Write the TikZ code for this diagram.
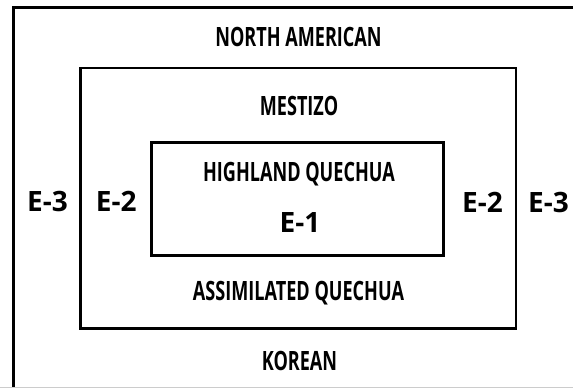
\documentclass[tikz,border=0pt]{standalone}
\usepackage{fontspec}
\setmainfont{Open Sans}
\newfontfamily\narrowfont{Open Sans}[FakeStretch=0.68]
\usetikzlibrary{positioning}

\tikzset{
  frame/.style={draw=black, line width=2.7pt, rectangle, inner sep=0pt},
  group/.style={font=\narrowfont\bfseries\fontsize{26.6}{30}\selectfont, inner sep=0pt},
  level/.style={font=\bfseries\fontsize{28}{32}\selectfont, inner sep=0pt}
}

\begin{document}
\begin{tikzpicture}[x=1pt,y=-1pt]
\useasboundingbox (0,0) rectangle (573,388);
\clip (0,0) rectangle (573,388);
% outer frame runs off the right and bottom edges
\coordinate (tl) at (13.7,7.3);
\coordinate (tr) at (590,7.3);
\coordinate (bl) at (13.7,400);
\draw[line width=2.7pt] (bl) -- (tl) -- (tr);
\coordinate (el) at (0,387.5);
\coordinate (er) at (573,387.5);
\draw[gray!40, line width=1pt] (el) -- (er);
% nested frames
\node[frame, minimum width=435.7pt, minimum height=260.5pt] (mid) at (298.2,198.3) {};
\node[frame, minimum width=291.8pt, minimum height=112.8pt] (inner) at (297.6,198.9) {};
% groups
\node[group] (north) at (298.5,37.2) {NORTH AMERICAN};
\node[group] (mestizo) at (299,105.5) {MESTIZO};
\node[group] (highland) at (299,174.2) {HIGHLAND QUECHUA};
\node[level] (e1) at (300,222.2) {E-1};
\node[group] (assim) at (298.5,293.3) {ASSIMILATED QUECHUA};
\node[group] (korean) at (299.5,360.8) {KOREAN};
% levels
\node[level] (e3l) at (47.5,201.7) {E-3};
\node[level] (e2l) at (116.2,201.7) {E-2};
\node[level] (e2r) at (482.5,202) {E-2};
\node[level] (e3r) at (548.5,202) {E-3};
\end{tikzpicture}
\end{document}
